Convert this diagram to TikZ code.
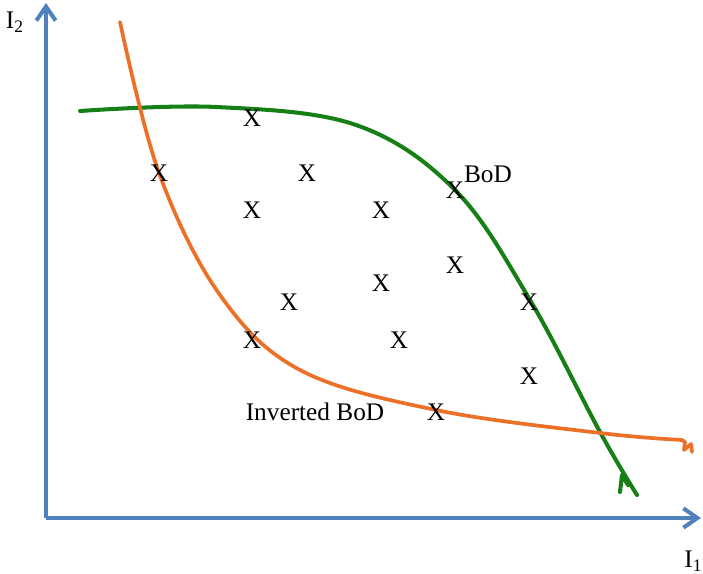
\documentclass[tikz,border=0pt]{standalone}
\usepackage{fontspec}
\setmainfont{Liberation Serif}
\usetikzlibrary{arrows.meta}
\definecolor{axisblue}{RGB}{79,129,189}
\definecolor{bodgreen}{RGB}{22,128,22}
\definecolor{invorange}{RGB}{237,112,40}
\tikzset{
  unitmark/.style={font=\fontsize{14.4}{17}\selectfont,inner sep=0pt},
  axisline/.style={line width=2.3pt,color=axisblue,-{Straight Barb[length=8pt,width=11pt,line width=2.3pt]}}
}
\begin{document}
\begin{tikzpicture}[font=\fontsize{14.4}{17}\selectfont]
			\useasboundingbox (-0.92,-1.10) rectangle (13.14,10.36);
			% axes
			\coordinate (O) at (0,0);
			\coordinate (xend) at (13.1,0);
			\coordinate (yend) at (0,10.3);
			\draw[axisline] (O) -- (xend);
			\draw[axisline] (O) -- (yend);
			\node (ilabel2) at (-0.62,9.92) {I\textsubscript{2}};
			\node[anchor=west,inner sep=0pt] (ilabel1) at (12.76,-0.86) {I\textsubscript{1}};
			% BoD
			\draw[line width=2.3pt,color=bodgreen,line cap=round] plot[smooth,tension=0.6] coordinates {(0.68,8.14) (3.4,8.22) (6.2,7.86) (8.18,6.56) (9.68,4.36) (11.08,1.72) (11.82,0.46)};
			\draw[line width=2.3pt,color=bodgreen,line cap=round,line join=round] (11.48,0.52) -- (11.52,0.86) -- (11.64,0.66);
			\node (bod) at (8.84,6.88) {BoD};
			% inverted BoD
			\draw[line width=2.1pt,color=invorange,line cap=round,line join=round] plot[smooth,tension=0.6] coordinates {(1.48,9.92) (2.26,6.90) (3.48,4.46) (5.08,2.96) (7.80,2.16) (11.08,1.70) (12.72,1.56)} -- (12.78,1.52) -- (12.76,1.36) -- (12.90,1.48) -- (12.92,1.32);
			\node (invbod) at (5.38,2.12) {Inverted BoD};
			% units
			\node[unitmark] (u1) at (4.12,8.00) {X};
			\node[unitmark] (u2) at (2.26,6.90) {X};
			\node[unitmark] (u3) at (5.22,6.90) {X};
			\node[unitmark] (u4) at (4.12,6.16) {X};
			\node[unitmark] (u5) at (6.70,6.16) {X};
			\node[unitmark] (u6) at (8.18,6.56) {X};
			\node[unitmark] (u7) at (8.18,5.06) {X};
			\node[unitmark] (u8) at (6.70,4.70) {X};
			\node[unitmark] (u9) at (4.86,4.32) {X};
			\node[unitmark] (u10) at (9.66,4.32) {X};
			\node[unitmark] (u11) at (4.12,3.56) {X};
			\node[unitmark] (u12) at (7.06,3.56) {X};
			\node[unitmark] (u13) at (9.66,2.84) {X};
			\node[unitmark] (u14) at (7.80,2.12) {X};
		\end{tikzpicture}
\end{document}
